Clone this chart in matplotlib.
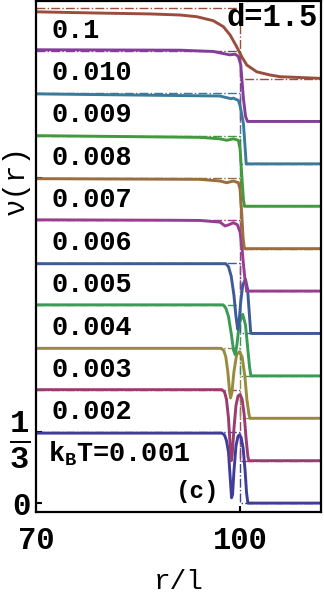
import colorsys
import matplotlib
matplotlib.use("Agg")
import matplotlib.pyplot as plt

plt.rcParams['font.family'] = ['Liberation Mono', 'DejaVu Sans Mono']
plt.rcParams['font.weight'] = 'bold'
plt.rcParams['mathtext.fontset'] = 'custom'
plt.rcParams['mathtext.rm'] = 'Liberation Mono:bold'
plt.rcParams['mathtext.it'] = 'Liberation Mono:bold'
plt.rcParams['mathtext.bf'] = 'Liberation Mono:bold'

# labels, bottom curve first
labels = ["k$_{\\rm B}$T=0.001", "0.002", "0.003", "0.004", "0.005", "0.006",
          "0.007", "0.008", "0.009", "0.010", "0.1"]
# Mathematica-style hues (S=B=0.6)
hues = [0.67, 0.906, 0.1421, 0.3781, 0.6142, 0.8502, 0.0862, 0.3222, 0.5583, 0.7943, 0.0304]

# nu(r), each relative to its own baseline
r_001 = [70, 97.3, 97.7, 98.0, 98.3, 98.55, 98.75, 98.9, 99.1, 99.4, 99.7, 99.9, 100.15, 100.45, 100.75, 100.95, 101.15, 112]
nu_001 = [0.330, 0.330, 0.322, 0.295, 0.24, 0.12, 0.025, 0.04, 0.15, 0.27, 0.315, 0.322, 0.31, 0.26, 0.15, 0.05, 0.0, 0.0]

r_002 = [70, 97.3, 97.7, 98.0, 98.3, 98.55, 98.7, 98.85, 99.1, 99.4, 99.7, 100.0, 100.3, 100.6, 100.9, 101.15, 101.3, 112]
nu_002 = [0.335, 0.335, 0.325, 0.29, 0.2, 0.07, 0.0, 0.03, 0.15, 0.26, 0.305, 0.312, 0.29, 0.22, 0.1, 0.02, 0.0, 0.0]

r_003 = [70, 97.2, 97.6, 97.9, 98.2, 98.45, 98.6, 98.8, 99.1, 99.5, 99.9, 100.3, 100.7, 101.0, 101.3, 101.45, 112]
nu_003 = [0.33, 0.33, 0.32, 0.29, 0.22, 0.13, 0.096, 0.12, 0.22, 0.3, 0.314, 0.29, 0.2, 0.09, 0.02, 0.0, 0.0]

r_004 = [70, 97.5, 97.9, 98.3, 98.7, 99.05, 99.3, 99.55, 99.9, 100.4, 100.8, 101.1, 101.4, 101.6, 112]
nu_004 = [0.335, 0.335, 0.32, 0.28, 0.2, 0.12, 0.1, 0.15, 0.25, 0.29, 0.24, 0.14, 0.04, 0.0, 0.0]

r_005 = [70, 97.9, 98.3, 98.7, 99.1, 99.4, 99.65, 99.85, 100.1, 100.4, 100.8, 101.1, 101.35, 101.55, 101.65, 112]
nu_005 = [0.329, 0.329, 0.315, 0.27, 0.18, 0.08, 0.02, 0.05, 0.15, 0.23, 0.255, 0.21, 0.1, 0.01, 0.0, 0.0]

r_006 = [70, 90, 94.1, 97.06, 97.79, 98.38, 99.01, 99.6, 100.0, 100.25, 100.49, 100.74, 100.99, 112]
nu_006 = [0.336, 0.334, 0.333, 0.325, 0.307, 0.313, 0.322, 0.313, 0.278, 0.215, 0.129, 0.049, 0.0, 0.0]

r_007 = [70, 94.1, 97.06, 98.04, 99.01, 99.75, 100.0, 100.25, 100.44, 100.63, 112]
nu_007 = [0.330, 0.327, 0.319, 0.311, 0.319, 0.311, 0.28, 0.162, 0.053, 0.0, 0.0]

r_008 = [70, 94.1, 97.06, 98.04, 99.01, 99.75, 100.0, 100.25, 100.5, 100.66, 112]
nu_008 = [0.333, 0.325, 0.318, 0.311, 0.318, 0.311, 0.271, 0.145, 0.03, 0.0, 0.0]

r_009 = [70, 91.2, 97.0, 98.7, 99.0, 99.75, 100.0, 100.5, 100.8, 100.9, 112]
nu_009 = [0.330, 0.322, 0.320, 0.307, 0.310, 0.299, 0.275, 0.189, 0.05, 0.0, 0.0]

r_010 = [70, 91.2, 96.03, 98.5, 99.26, 99.75, 100.1, 100.49, 100.8, 100.99, 101.1, 112]
nu_010 = [0.338, 0.336, 0.330, 0.314, 0.317, 0.307, 0.267, 0.11, 0.025, 0.008, 0.0, 0.0]

r_1 = [70, 79.41, 86.76, 91.18, 93.63, 96.07, 97.54, 98.53, 99.51, 100.25, 100.99, 102.46, 104.41, 105.88, 111.9]
nu_1 = [0.317, 0.311, 0.307, 0.302, 0.294, 0.275, 0.247, 0.208, 0.152, 0.105, 0.066, 0.034, 0.019, 0.011, 0.003]

curves = [(r_001, nu_001), (r_002, nu_002), (r_003, nu_003), (r_004, nu_004),
          (r_005, nu_005), (r_006, nu_006), (r_007, nu_007), (r_008, nu_008),
          (r_009, nu_009), (r_010, nu_010), (r_1, nu_1)]

step = 0.2  # vertical shift between curves
r0 = 100     # step position of reference profile
nu0 = 1 / 3

fig = plt.figure(figsize=(3.24, 6.0), dpi=100)
ax = fig.add_axes([36 / 324, 88 / 600, 285 / 324, 511 / 600])

for k, ((r, nu), lab, h) in enumerate(zip(curves, labels, hues)):
    c = colorsys.hsv_to_rgb(h, 0.6, 0.6)
    off = k * step
    ax.plot([70, r0, r0, 112], [off + nu0, off + nu0, off, off], ls='-.', lw=1.0, color=c, zorder=1)
    ax.plot(r, [v + off for v in nu], color=c, lw=2.1, zorder=2)
    x_lab = 71.8 if k == 0 else 72.35
    ax.text(x_lab, off + 0.195, lab, fontsize=19.4, ha='left', va='baseline', zorder=3)

ax.text(104.7, 2.288, "d=1.5", fontsize=22, ha='center', va='center')
ax.text(93.75, 0.057, "(c)", fontsize=17.5, ha='center', va='center')

ax.set_xlim(70, 111.9)
ax.set_ylim(-0.042, 2.368)
ax.set_xticks([70, 100])
ax.set_xticklabels(["70", "100"])
ax.set_yticks([0, nu0, 6 * step + nu0])
ax.set_yticklabels(["0", r"$\frac{1}{3}$", ""])
ax.tick_params(axis='both', direction='in', length=4, width=1.5, labelsize=22)
ax.tick_params(axis='x', pad=10)
ax.tick_params(axis='y', pad=4.3)
ax.yaxis.get_major_ticks()[1].label1.set_fontsize(33)

for s in ax.spines.values():
    s.set_linewidth(1.6)
ax.spines['top'].set_linestyle((0, (1.5, 1)))

ax.set_xlabel("r/l", fontsize=20, va='top')
ax.xaxis.set_label_coords(0.5, -0.112)
ax.set_ylabel("ν(r)", fontsize=21, rotation=90, va='center', ha='center')
ax.yaxis.set_label_coords(-0.07, 0.65)

fig.savefig("out.png", dpi=100)
